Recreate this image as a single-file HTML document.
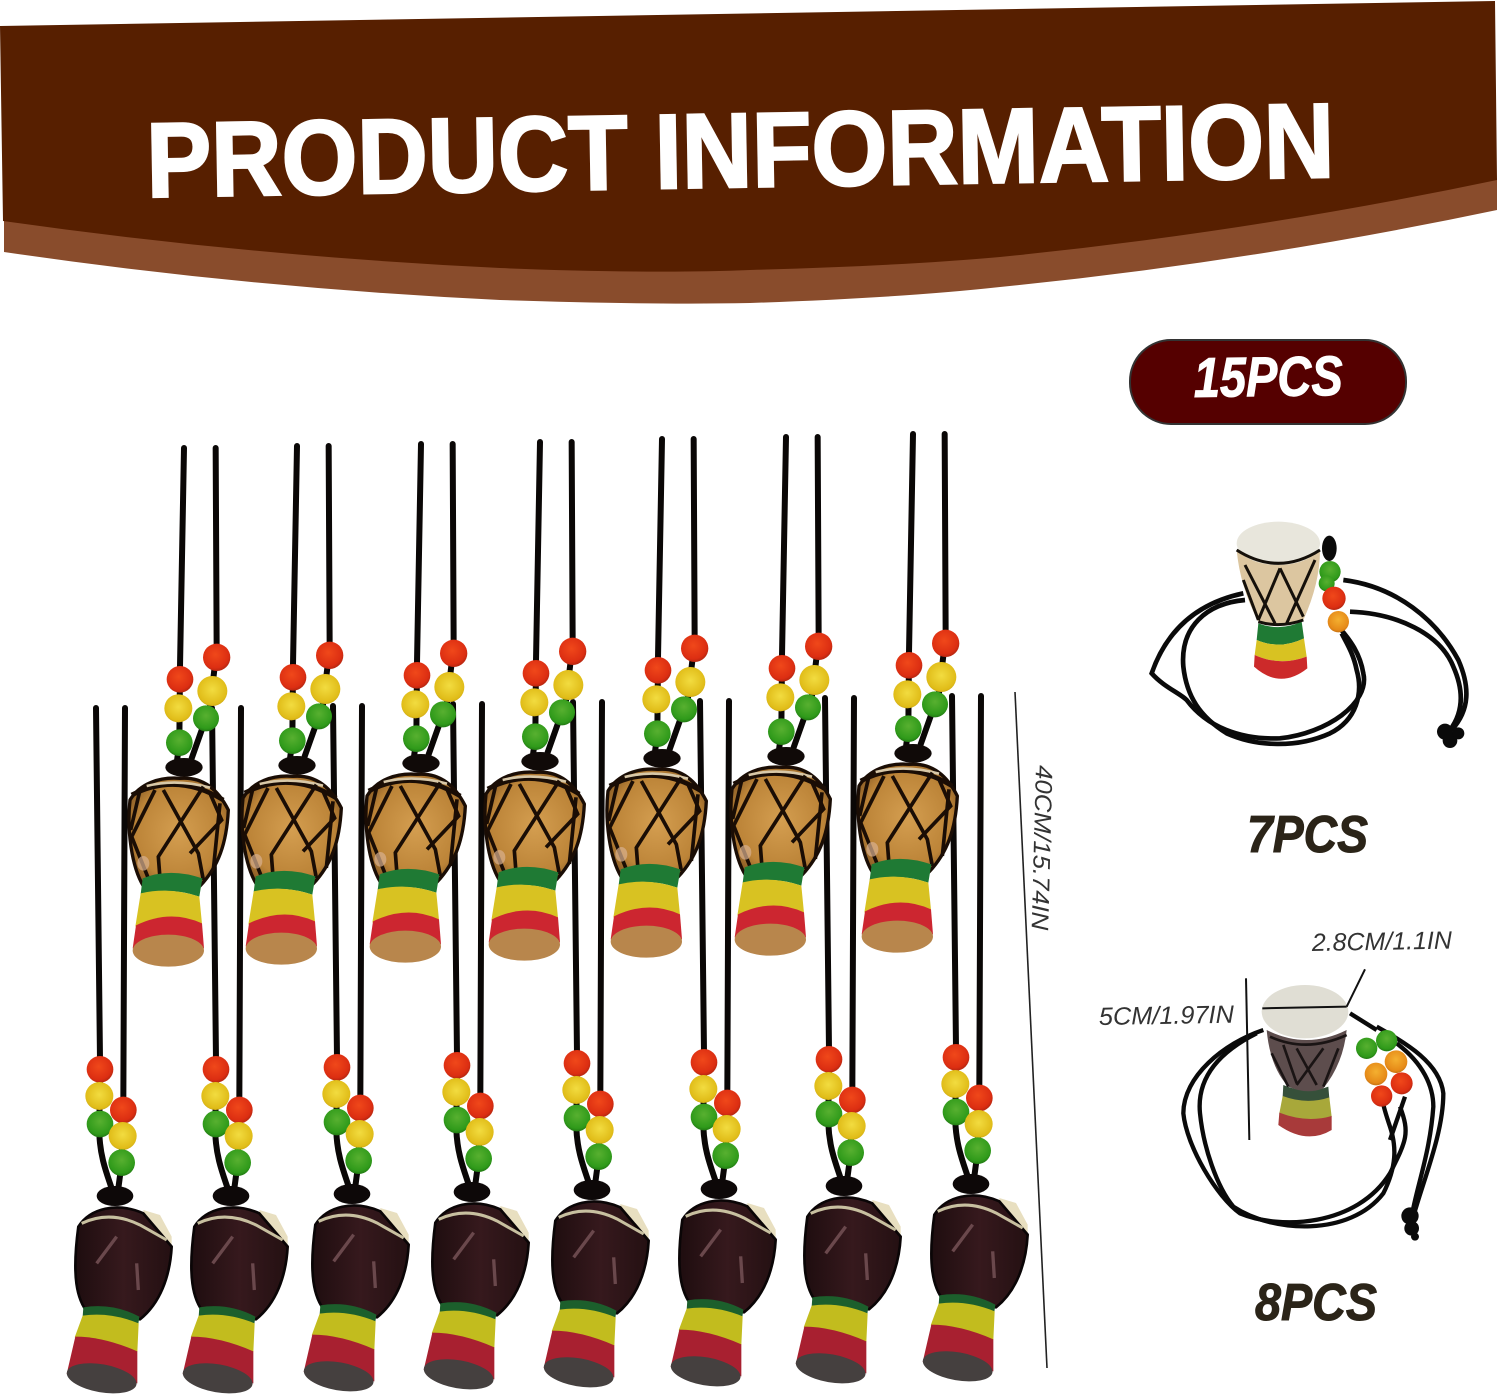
<!DOCTYPE html>
<html>
<head>
<meta charset="utf-8">
<title>Product Information</title>
<style>
html,body{margin:0;padding:0;background:#fff;width:1500px;height:1400px;overflow:hidden}
svg{display:block}
text{font-family:"Liberation Sans",sans-serif}
</style>
</head>
<body>
<svg width="1500" height="1400" viewBox="0 0 1500 1400" xmlns="http://www.w3.org/2000/svg">
<defs>
<radialGradient id="r" cx=".45" cy=".4" r=".65"><stop offset="0" stop-color="#f0481a"/><stop offset=".75" stop-color="#dc2e12"/><stop offset="1" stop-color="#a82410"/></radialGradient>
<radialGradient id="y" cx=".5" cy=".45" r=".65"><stop offset="0" stop-color="#f2dc40"/><stop offset=".75" stop-color="#e0bc18"/><stop offset="1" stop-color="#b08c10"/></radialGradient>
<radialGradient id="o" cx=".5" cy=".4" r=".65"><stop offset="0" stop-color="#f4b030"/><stop offset=".75" stop-color="#e68a18"/><stop offset="1" stop-color="#b86810"/></radialGradient>
<radialGradient id="g" cx=".5" cy=".4" r=".65"><stop offset="0" stop-color="#58b030"/><stop offset=".75" stop-color="#2f9a1a"/><stop offset="1" stop-color="#1c6a10"/></radialGradient>
<radialGradient id="wood" cx=".5" cy=".5" r=".62"><stop offset="0" stop-color="#d49e50"/><stop offset=".7" stop-color="#bc8438"/><stop offset="1" stop-color="#7e5220"/></radialGradient>
<linearGradient id="dk" x1="0" y1="0" x2="1" y2="0"><stop offset="0" stop-color="#1e0d0f"/><stop offset=".5" stop-color="#36191d"/><stop offset="1" stop-color="#241012"/></linearGradient>

<g id="a" transform="translate(120,630) scale(.33333)">
 <g fill="none" stroke="#0a0706" stroke-width="18" stroke-linecap="round">
  <path d="M192,-546 L180,110 L178,340 L170,400"/>
  <path d="M287,-546 L290,60 L270,230 L215,385"/>
 </g>
 <circle cx="180" cy="148" r="40" fill="url(#r)"/>
 <circle cx="175" cy="235" r="42" fill="url(#y)"/>
 <circle cx="178" cy="338" r="40" fill="url(#g)"/>
 <circle cx="290" cy="82" r="41" fill="url(#r)"/>
 <circle cx="277" cy="183" r="45" fill="url(#y)"/>
 <circle cx="258" cy="265" r="39" fill="url(#g)"/>
 <ellipse cx="192" cy="412" rx="56" ry="28" fill="#100a08"/>
 <path d="M30,510 C60,460 120,440 180,445 C240,440 290,470 325,540 C320,640 295,710 240,768 L70,768 C35,710 20,600 30,510Z" fill="url(#wood)" stroke="#1a0d05" stroke-width="10" stroke-linejoin="round"/>
 <path d="M35,495 Q170,425 310,510" fill="none" stroke="#1a0d05" stroke-width="14"/>
 <path d="M80,468 Q170,445 270,473" fill="none" stroke="#d8c8a8" stroke-width="8"/>
 <g fill="none" stroke="#1a0d05" stroke-width="11">
  <path d="M105,480 L35,620 L85,745"/>
  <path d="M130,480 L235,670 L250,750"/>
  <path d="M250,470 L115,680 L120,745"/>
  <path d="M270,490 L305,570 L210,670"/>
  <path d="M60,480 L32,600"/>
  <path d="M300,520 L280,720"/>
 </g>
 <ellipse cx="70" cy="700" rx="18" ry="22" fill="#d8b090" opacity=".7"/>
 <path d="M68,745 Q150,712 247,745 L238,800 Q150,770 62,792Z" fill="#1f7a34"/>
 <path d="M62,790 Q150,770 238,800 L246,882 Q150,838 46,890Z" fill="#d8c222"/>
 <path d="M48,886 Q150,836 246,880 L252,955 L38,955Z" fill="#cc2630"/>
 <ellipse cx="145" cy="962" rx="107" ry="48" fill="#b8864c"/>
</g>

<g id="b" transform="translate(60,1050) scale(.33333)">
 <g fill="none" stroke="#0a0706" stroke-width="18" stroke-linecap="round">
  <path d="M108,-1026 L120,30 L118,250 C120,320 140,370 155,415"/>
  <path d="M195,-1026 L190,150 L185,340 L175,415"/>
 </g>
 <circle cx="120" cy="58" r="40" fill="url(#r)"/>
 <circle cx="118" cy="138" r="42" fill="url(#y)"/>
 <circle cx="120" cy="222" r="40" fill="url(#g)"/>
 <circle cx="190" cy="180" r="40" fill="url(#r)"/>
 <circle cx="188" cy="258" r="42" fill="url(#y)"/>
 <circle cx="185" cy="338" r="40" fill="url(#g)"/>
 <ellipse cx="165" cy="438" rx="55" ry="30" fill="#0d0808"/>
 <path d="M250,480 L300,495 L335,560 L335,600 L250,560Z" fill="#e8dfc0"/>
 <path d="M55,530 C90,475 170,455 250,490 L335,590 C330,680 300,760 240,808 L85,790 C50,750 35,680 55,530Z" fill="url(#dk)" stroke="#0a0506" stroke-width="8" stroke-linejoin="round"/>
 <path d="M65,520 Q150,480 240,525 L320,570" fill="none" stroke="#c8c0a0" stroke-width="9"/>
 <path d="M110,640 L170,560 M230,640 L235,720" stroke="#6a484c" stroke-width="10" fill="none"/>
 <path d="M70,772 Q160,758 238,800 L235,822 Q150,790 68,800Z" fill="#1c5f2c"/>
 <path d="M68,797 Q150,785 236,820 L232,906 Q130,860 44,862Z" fill="#c2bc1e"/>
 <path d="M46,860 Q130,860 232,904 L232,1000 L20,972Z" fill="#a82030"/>
 <ellipse cx="125" cy="985" rx="106" ry="42" transform="rotate(10 125 985)" fill="#45403f"/>
</g>
</defs>

<rect width="1500" height="1400" fill="#fff"/>

<!-- Header banner -->
<path d="M4,221 L4,252 Q250,288 500,300 Q650,305 750,303 Q900,298 1000,287 Q1250,262 1497,210 L1497,178Z" fill="#894c2c"/>
<path d="M0,26 L1495,1 L1497,180 Q1250,232 1000,257 Q900,266 750,270 Q650,274 500,268 Q250,256 3,221Z" fill="#571f00"/>
<text x="147" y="197" font-size="106" font-weight="700" fill="#fff" stroke="#fff" stroke-width="2.5" textLength="1188" lengthAdjust="spacingAndGlyphs" transform="rotate(-0.97 147 197)">PRODUCT INFORMATION</text>

<!-- Pill -->
<rect x="1130" y="340" width="276" height="84" rx="41" fill="#550000" stroke="#333" stroke-width="2"/>
<text x="1194" y="397" font-size="56" font-weight="700" font-style="italic" fill="#fff" stroke="#fff" stroke-width="1" textLength="149" lengthAdjust="spacingAndGlyphs" transform="rotate(-0.8 1194 397)">15PCS</text>

<!-- Bottom row -->
<use href="#b"/>
<use href="#b" transform="translate(116,0)"/>
<use href="#b" transform="translate(237,-2)"/>
<use href="#b" transform="translate(357,-4)"/>
<use href="#b" transform="translate(477,-6)"/>
<use href="#b" transform="translate(604,-7)"/>
<use href="#b" transform="translate(729,-10)"/>
<use href="#b" transform="translate(856,-12)"/>

<!-- Top row -->
<use href="#a"/>
<use href="#a" transform="translate(113,-2)"/>
<use href="#a" transform="translate(237,-4)"/>
<use href="#a" transform="translate(356,-6)"/>
<use href="#a" transform="translate(478,-9)"/>
<use href="#a" transform="translate(602,-11)"/>
<use href="#a" transform="translate(729,-14)"/>

<!-- Length annotation -->
<line x1="1015" y1="692" x2="1047" y2="1368" stroke="#222" stroke-width="1.6"/>
<text x="1036" y="765" font-size="24" font-style="italic" fill="#333" textLength="165" lengthAdjust="spacingAndGlyphs" transform="rotate(91.5 1036 765)">40CM/15.74IN</text>

<!-- 7PCS necklace -->
<g transform="translate(1130,500) scale(.33333)">
 <g fill="none" stroke="#0a0a0a" stroke-width="14">
  <path d="M340,280 C200,310 110,390 65,520 C100,560 150,580 170,600 C230,680 330,720 450,715 C590,700 720,610 700,520 C690,460 660,420 630,385"/>
  <path d="M345,300 C230,310 150,380 160,500 C170,590 210,650 290,700 C380,740 500,745 600,700 C680,660 700,580 680,510 C670,460 650,430 635,400"/>
  <path d="M640,240 C800,260 920,360 985,480 C1020,560 1020,630 965,690"/>
  <path d="M660,335 C800,340 930,400 970,500 C1010,590 990,650 960,690"/>
 </g>
 <circle cx="945" cy="695" r="24" fill="#0a0a0a"/>
 <circle cx="960" cy="722" r="22" fill="#0a0a0a"/>
 <circle cx="985" cy="700" r="18" fill="#0a0a0a"/>
 <path d="M385,370 Q450,395 515,365 L522,415 Q450,450 380,420Z" fill="#1f7a34"/>
 <path d="M380,420 Q450,450 522,415 L530,470 Q450,500 374,465Z" fill="#d8c222"/>
 <path d="M374,465 Q450,500 530,470 L532,505 Q450,570 372,500Z" fill="#cc2a2a"/>
 <path d="M320,150 Q330,260 385,365 Q450,385 520,360 Q570,250 570,150 Q450,220 320,150Z" fill="#dcc6a0"/>
 <ellipse cx="445" cy="130" rx="125" ry="65" fill="#e8e6dc"/>
 <g fill="none" stroke="#15100a" stroke-width="9">
  <path d="M320,150 Q445,230 570,150"/>
  <path d="M345,195 L435,370 M450,205 L385,360 M450,205 L520,350 M555,180 L470,370 M340,240 L385,360"/>
  <path d="M385,365 Q450,385 520,360"/>
 </g>
 <ellipse cx="598" cy="145" rx="22" ry="38" fill="#0a0a0a"/>
 <circle cx="600" cy="215" r="32" fill="url(#g)"/>
 <circle cx="590" cy="250" r="24" fill="url(#g)"/>
 <circle cx="612" cy="295" r="35" fill="url(#r)"/>
 <circle cx="625" cy="365" r="32" fill="url(#o)"/>
</g>
<text x="1247" y="852" font-size="52" font-weight="700" font-style="italic" fill="#2b2418" stroke="#2b2418" stroke-width="1" textLength="121" lengthAdjust="spacingAndGlyphs">7PCS</text>

<!-- 8PCS necklace -->
<g transform="translate(1090,920) scale(.33333)">
 <g fill="none" stroke="#0a0a0a" stroke-width="13">
  <path d="M520,330 C400,370 280,470 280,580 C290,680 380,830 450,880 C570,930 800,920 900,760 C950,660 960,640 930,560"/>
  <path d="M500,340 C380,400 320,480 330,580 C340,680 380,800 430,860 C550,940 780,950 880,820 C920,740 920,680 900,620 C890,590 880,560 880,550"/>
  <path d="M860,320 C950,370 1050,430 1060,520 C1060,640 1000,780 970,890"/>
  <path d="M920,370 C1000,430 1030,500 1030,560 C1020,700 980,800 965,890"/>
  <path d="M945,530 L900,660"/>
  <path d="M780,280 L860,330"/>
 </g>
 <circle cx="960" cy="888" r="26" fill="#0a0a0a"/>
 <circle cx="965" cy="925" r="22" fill="#0a0a0a"/>
 <circle cx="975" cy="950" r="12" fill="#0a0a0a"/>
 <path d="M580,495 Q650,525 715,500 L718,535 Q650,555 578,530Z" fill="#36503a"/>
 <path d="M578,528 Q650,555 718,532 L725,590 Q650,610 568,580Z" fill="#a8a83a"/>
 <path d="M568,578 Q650,610 725,588 L725,630 Q650,675 565,615Z" fill="#a83a3a"/>
 <path d="M530,330 Q540,440 595,500 Q650,525 700,505 Q760,430 770,330 Q650,390 530,330Z" fill="#5d4d4d"/>
 <ellipse cx="645" cy="275" rx="130" ry="80" fill="#e0ded4"/>
 <g fill="none" stroke="#1a1414" stroke-width="8">
  <path d="M540,350 Q650,400 770,345"/>
  <path d="M580,375 L620,490 M620,385 L680,495 M700,385 L620,495 M745,385 L700,500 M545,400 L595,500"/>
 </g>
 <circle cx="830" cy="385" r="32" fill="url(#g)"/>
 <circle cx="890" cy="362" r="32" fill="url(#g)"/>
 <circle cx="858" cy="462" r="34" fill="url(#o)"/>
 <circle cx="918" cy="425" r="34" fill="url(#o)"/>
 <circle cx="875" cy="528" r="32" fill="url(#r)"/>
 <circle cx="935" cy="490" r="33" fill="url(#r)"/>
 <g fill="none" stroke="#111" stroke-width="6">
  <path d="M468,175 L478,660"/>
  <path d="M517,265 L770,260"/>
  <path d="M825,148 L770,260"/>
 </g>
</g>
<text x="1099" y="1025" font-size="25" font-style="italic" fill="#333" textLength="135" lengthAdjust="spacingAndGlyphs" transform="rotate(-1 1099 1025)">5CM/1.97IN</text>
<text x="1312" y="951" font-size="25" font-style="italic" fill="#333" textLength="140" lengthAdjust="spacingAndGlyphs" transform="rotate(-1 1312 951)">2.8CM/1.1IN</text>
<text x="1255" y="1320" font-size="52" font-weight="700" font-style="italic" fill="#2b2418" stroke="#2b2418" stroke-width="1" textLength="122" lengthAdjust="spacingAndGlyphs">8PCS</text>
</svg>
</body>
</html>
